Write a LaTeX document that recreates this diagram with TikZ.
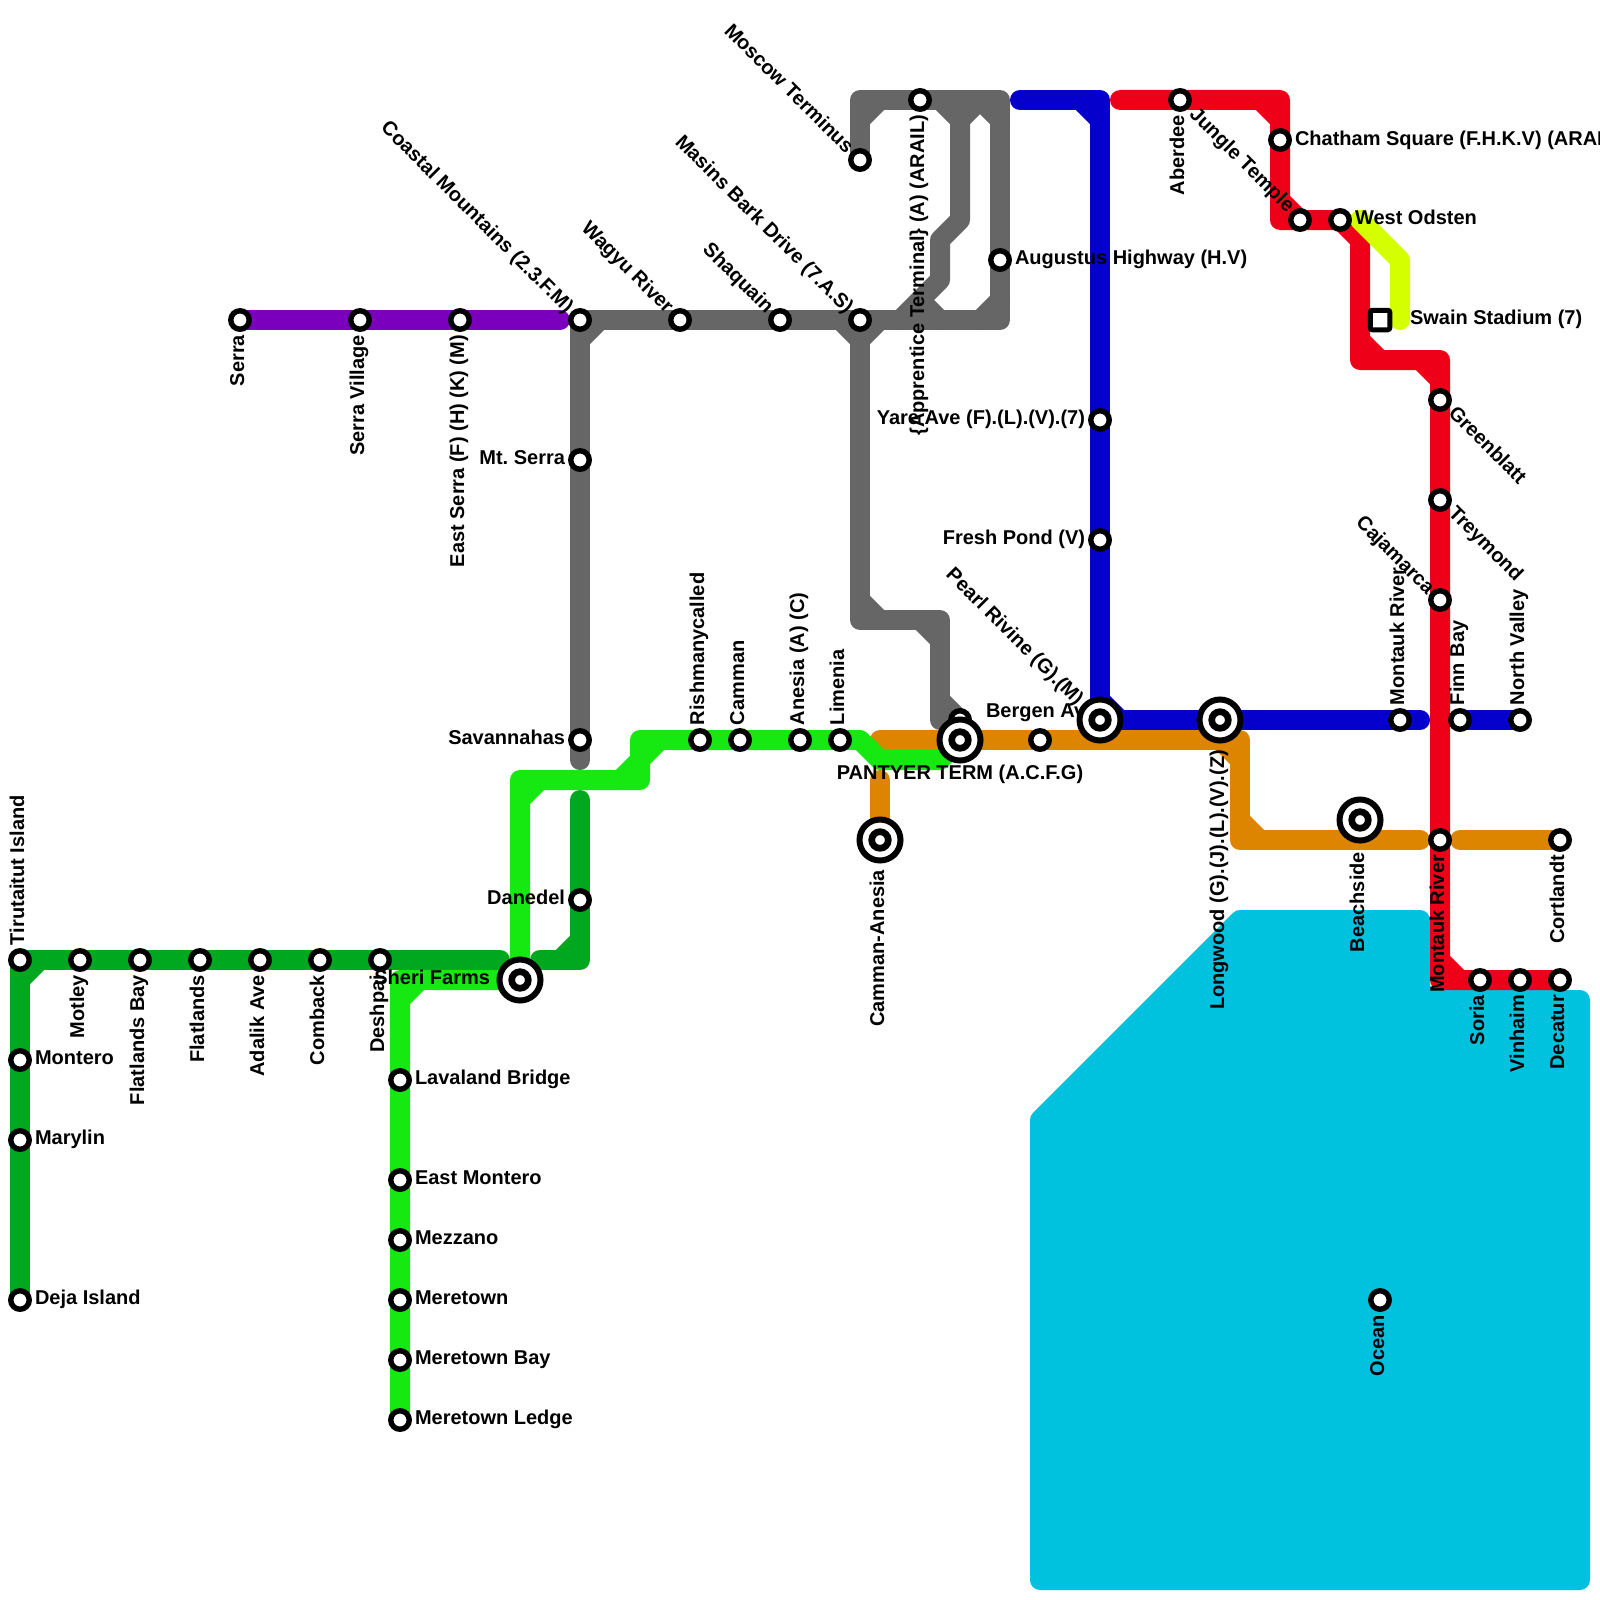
\documentclass[tikz,border=0pt]{standalone}
\usepackage{fontspec}
\setmainfont{Liberation Sans}
\frenchspacing
\definecolor{cgrey}{HTML}{666666}
\definecolor{cpurple}{HTML}{7B00BD}
\definecolor{cdgreen}{HTML}{00A820}
\definecolor{clgreen}{HTML}{16E812}
\definecolor{cblue}{HTML}{0600CC}
\definecolor{cred}{HTML}{EE0018}
\definecolor{corange}{HTML}{DD8400}
\definecolor{cyellow}{HTML}{D4FF00}
\definecolor{cwater}{HTML}{00C2DE}
\tikzset{
  metro/.style={line width=20pt,line cap=round,line join=round},
  stn/.style={circle,draw=black,fill=white,line width=5.4pt,minimum size=18.5pt,inner sep=0pt,outer sep=0pt},
  xbig/.style={circle,draw=black,fill=white,line width=6pt,minimum size=41pt,inner sep=0pt,outer sep=0pt},
  xsmall/.style={circle,draw=black,fill=white,line width=6.7pt,minimum size=16.6pt,inner sep=0pt,outer sep=0pt},
  sqstn/.style={rectangle,rounded corners=2pt,draw=black,fill=white,line width=5pt,minimum size=19.5pt,inner sep=0pt,outer sep=0pt},
  lbl/.style={font=\fontsize{20}{22}\selectfont\bfseries,text=black,inner sep=0pt,outer sep=0pt},
  lr/.style={lbl,anchor=mid west,yshift=-4pt},
  ll/.style={lbl,anchor=mid east,yshift=-3.5pt},
  lu/.style={xshift=3.5pt,lbl,rotate=90,anchor=mid west},
  ld/.style={xshift=3.5pt,lbl,rotate=90,anchor=mid east},
  lnw/.style={xshift=-2.5pt,yshift=-2.5pt,lbl,rotate=-45,anchor=mid east},
  lse/.style={xshift=-2.5pt,yshift=-2.5pt,lbl,rotate=-45,anchor=mid west},
}
\begin{document}
\begin{tikzpicture}[x=1pt,y=-1pt]
\clip (0,0) rectangle (1600,1600);
\fill[white] (0,0) rectangle (1600,1600);
% water
\draw[cwater,fill=cwater,line width=20pt,line join=round]
  (1040,1120) -- (1240,920) -- (1420,920) -- (1420,1000) -- (1580,1000) -- (1580,1580) -- (1040,1580) -- cycle;
% purple
\draw[metro,cpurple] (240,320) -- (560,320);
% dark green
\draw[metro,cdgreen] (20,1300) -- (20,960) -- (500,960);
\draw[metro,cdgreen] (20,980) -- (40,960);
\draw[metro,cdgreen] (580,800) -- (580,960) -- (540,960);
\draw[metro,cdgreen] (580,940) -- (560,960);
% orange
\draw[metro,corange] (880,740) -- (1240,740) -- (1240,840) -- (1420,840);
\draw[metro,corange] (1220,740) -- (1240,760);
\draw[metro,corange] (1240,820) -- (1260,840);
\draw[metro,corange] (1460,840) -- (1560,840);
\draw[metro,corange] (880,780) -- (880,840);
% grey
\draw[metro,cgrey] (860,160) -- (860,100) -- (1000,100) -- (1000,320) -- (580,320) -- (580,760);
\draw[metro,cgrey] (860,120) -- (880,100);
\draw[metro,cgrey] (940,100) -- (960,120) -- (980,100);
\draw[metro,cgrey] (1000,120) -- (980,100);
\draw[metro,cgrey] (1000,300) -- (980,320);
\draw[metro,cgrey] (960,100) -- (960,220) -- (940,240) -- (940,280) -- (900,320);
\draw[metro,cgrey] (920,300) -- (940,320);
\draw[metro,cgrey] (600,320) -- (580,340);
\draw[metro,cgrey] (840,320) -- (860,340) -- (880,320);
\draw[metro,cgrey] (860,320) -- (860,620) -- (940,620) -- (940,720) -- (960,720);
\draw[metro,cgrey] (860,600) -- (880,620);
\draw[metro,cgrey] (920,620) -- (940,640);
\draw[metro,cgrey] (940,700) -- (960,720);
% light green
\draw[metro,clgreen] (400,1420) -- (400,980) -- (520,980) -- (520,780) -- (640,780) -- (640,740) -- (860,740) -- (880,760) -- (940,760) -- (960,740);
\draw[metro,clgreen] (400,1000) -- (420,980);
\draw[metro,clgreen] (520,800) -- (540,780);
\draw[metro,clgreen] (620,780) -- (640,760) -- (660,740);
% blue
\draw[metro,cblue] (1020,100) -- (1100,100) -- (1100,720) -- (1420,720);
\draw[metro,cblue] (1080,100) -- (1100,120);
\draw[metro,cblue] (1100,700) -- (1120,720);
\draw[metro,cblue] (1460,720) -- (1520,720);
% red
\draw[metro,cred] (1120,100) -- (1280,100) -- (1280,220) -- (1340,220) -- (1360,240) -- (1360,360) -- (1440,360) -- (1440,980) -- (1560,980);
\draw[metro,cred] (1260,100) -- (1280,120);
\draw[metro,cred] (1280,200) -- (1300,220);
\draw[metro,cred] (1360,340) -- (1380,360);
\draw[metro,cred] (1420,360) -- (1440,380);
\draw[metro,cred] (1440,960) -- (1460,980);
% yellow
\draw[metro,cyellow] (1360,220) -- (1400,260) -- (1400,320);
% labels
\node[ld] at (238,335) {Serra};
\node[ld] at (358,335) {Serra Village};
\node[ld] at (458,335) {East Serra (F) (H) (K) (M)};
\node[lnw] at (570,310) {Coastal Mountains (2.3.F.M)};
\node[lnw] at (670,310) {Wagyu River};
\node[lnw] at (770,310) {Shaquain};
\node[lnw] at (850,310) {Masins Bark Drive (7.A.S)};
\node[lnw] at (850,150) {Moscow Terminus};
\node[ld] at (918,115) {\{Apprentice Terminal\} (A) (ARAIL)};
\node[lr] at (1015,258) {Augustus Highway (H.V)};
\node[ll] at (565,458) {Mt. Serra};
\node[ll] at (565,738) {Savannahas};
\node[ll] at (565,898) {Danedel};
\node[lu] at (18,945) {Tirutaitut Island};
\node[ld] at (78,975) {Motley};
\node[ld] at (138,975) {Flatlands Bay};
\node[ld] at (198,975) {Flatlands};
\node[ld] at (258,975) {Adalik Ave};
\node[ld] at (318,975) {Comback};
\node[ld] at (378,975) {Deshpai};
\node[lr] at (35,1058) {Montero};
\node[lr] at (35,1138) {Marylin};
\node[lr] at (35,1298) {Deja Island};
\node[ll] at (490,978) {Sheri Farms};
\node[lr] at (415,1078) {Lavaland Bridge};
\node[lr] at (415,1178) {East Montero};
\node[lr] at (415,1238) {Mezzano};
\node[lr] at (415,1298) {Meretown};
\node[lr] at (415,1358) {Meretown Bay};
\node[lr] at (415,1418) {Meretown Ledge};
\node[lu] at (698,725) {Rishmanycalled};
\node[lu] at (738,725) {Camman};
\node[lu] at (798,725) {Anesia (A) (C)};
\node[lu] at (838,725) {Limenia};
\node[lbl] at (960,774) {PANTYER TERM (A.C.F.G)};
\node[lr] at (986,711) {Bergen Av};
\node[ld] at (878,870) {Camman-Anesia};
\node[ll] at (1085,418) {Yare Ave (F).(L).(V).(7)};
\node[ll] at (1085,538) {Fresh Pond (V)};
\node[lnw] at (1080,702) {Pearl Rivine (G).(M)};
\node[ld] at (1218,750) {Longwood (G).(J).(L).(V).(Z)};
\node[ld] at (1358,852) {Beachside};
\node[lu] at (1398,705) {Montauk River};
\node[lu] at (1458,705) {Finn Bay};
\node[lu] at (1518,705) {North Valley};
\node[ld] at (1178,115) {Aberdee};
\node[lr] at (1295,139) {Chatham Square (F.H.K.V) (ARAIL)};
\node[lnw] at (1291,209) {Jungle Temple};
\node[lr] at (1355,218) {West Odsten};
\node[lr] at (1410,318) {Swain Stadium (7)};
\node[lse] at (1452,410) {Greenblatt};
\node[lse] at (1452,510) {Treymond};
\node[lnw] at (1431,591) {Cajamarca};
\node[ld] at (1438,855) {Montauk River};
\node[ld] at (1478,995) {Soria};
\node[ld] at (1518,995) {Vinhaim};
\node[ld] at (1558,995) {Decatur};
\node[ld] at (1558,855) {Cortlandt};
\node[ld] at (1378,1315) {Ocean};
% stations
\foreach \n/\x/\y in {a1/240/320,a2/360/320,a3/460/320,
  b1/20/960,b2/80/960,b3/140/960,b4/200/960,b5/260/960,b6/320/960,b7/380/960,b8/20/1060,b9/20/1140,b10/20/1300,
  c1/400/1080,c2/400/1180,c3/400/1240,c4/400/1300,c5/400/1360,c6/400/1420,
  d1/700/740,d2/740/740,d3/800/740,d4/840/740,
  e1/580/320,e2/680/320,e3/780/320,e4/860/320,e5/860/160,e6/920/100,e7/1000/260,e8/580/460,e9/580/740,e10/580/900,e11/960/720,
  f1/1100/420,f2/1100/540,f3/1400/720,f4/1460/720,f5/1520/720,
  g1/1180/100,g2/1280/140,g3/1300/220,g4/1340/220,g5/1440/400,g6/1440/500,g7/1440/600,g8/1440/840,g9/1480/980,g10/1520/980,g11/1560/980,
  h1/1040/740,h2/1560/840,h3/1380/1300}
  {\node[stn] (\n) at (\x,\y) {};}
\node[sqstn] (sq) at (1380,320) {};
\foreach \n/\x/\y in {x1/520/980,x2/880/840,x3/960/740,x4/1100/720,x5/1220/720,x6/1360/820}
  {\node[xbig] (\n) at (\x,\y) {}; \node[xsmall] (\n s) at (\x,\y) {};}
\end{tikzpicture}
\end{document}
